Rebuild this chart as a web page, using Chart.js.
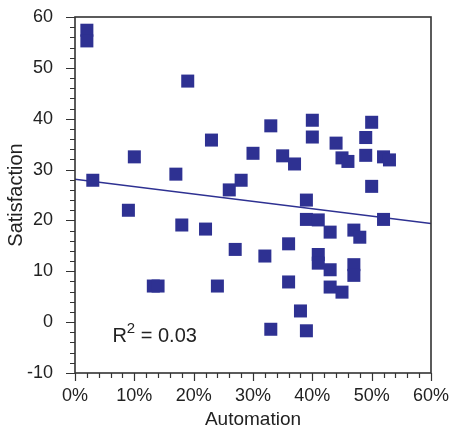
<!DOCTYPE html>
<html>
<head>
<meta charset="utf-8">
<script src="https://cdn.jsdelivr.net/npm/chart.js@4.4.1/dist/chart.umd.min.js"></script>
<style>
  html, body { margin: 0; padding: 0; background: #fff; }
  #wrap { width: 452px; height: 427px; }
</style>
</head>
<body>
<div id="wrap"><canvas id="c" width="452" height="427"></canvas></div>
<script>
// Automation (%) and Satisfaction values
const automation = [2, 2, 3, 9, 10, 13.2, 14, 17, 18, 19, 22, 23, 24, 26, 27, 28, 30, 32, 33, 33,
  35, 36, 36, 37, 38, 39, 39, 39, 40, 40, 41, 41, 41, 43, 43, 43, 44, 45, 45, 46,
  47, 47, 47, 48, 49, 49, 50, 50, 52, 52, 53];
const satisfaction = [57.4, 55.3, 27.9, 22.0, 32.5, 7.1, 7.1, 29.1, 19.1, 47.4, 18.3, 35.8, 7.1, 26.0, 14.3, 27.9, 33.2, 13.0, 38.6, -1.4,
  32.7, 15.4, 7.9, 31.1, 2.2, 24.0, 20.2, -1.7, 39.7, 36.4, 20.1, 13.3, 11.6, 17.7, 10.3, 6.9, 35.2, 32.3, 5.9, 31.6,
  18.1, 11.3, 9.2, 16.7, 36.3, 32.8, 39.3, 26.7, 32.5, 20.2, 31.9];
// Fitted trend line endpoints
const trendX = [0, 60];
const trendY = [28.1, 19.4];
// Axis ticks
const xTicks = [0, 10, 20, 30, 40, 50, 60];
const yTicks = [-10, 0, 10, 20, 30, 40, 50, 60];
const xMinorStep = 2;
const yMinorStep = 2;
const r2Label = { x: 6.3, y: -3.9, text: "0.03" };

const BLUE = '#2e3192';
const AXIS = '#333333';
const FONT = "'Liberation Sans', Arial, Helvetica, sans-serif";

const points = automation.map((x, i) => ({ x: x, y: satisfaction[i] }));
const trend = trendX.map((x, i) => ({ x: x, y: trendY[i] }));

const framePlugin = {
  id: 'frame',
  afterDraw(chart) {
    const { ctx, chartArea: a, scales } = chart;
    const xs = scales.x, ys = scales.y;
    ctx.save();
    ctx.strokeStyle = AXIS;
    ctx.lineWidth = 1.6;
    ctx.strokeRect(a.left, a.top, a.right - a.left, a.bottom - a.top);
    ctx.lineWidth = 1.2;
    ctx.beginPath();
    for (let v = xs.min; v <= xs.max + 1e-9; v += xMinorStep) {
      const px = Math.round(xs.getPixelForValue(v)) + 0.5;
      const major = xTicks.includes(Math.round(v));
      ctx.moveTo(px, a.bottom);
      ctx.lineTo(px, a.bottom + (major ? 8 : 5));
    }
    for (let v = ys.min; v <= ys.max + 1e-9; v += yMinorStep) {
      const py = Math.round(ys.getPixelForValue(v)) + 0.5;
      const major = yTicks.includes(Math.round(v));
      ctx.moveTo(a.left, py);
      ctx.lineTo(a.left - (major ? 9 : 5), py);
    }
    ctx.stroke();
    // R^2 annotation
    const tx = xs.getPixelForValue(r2Label.x);
    const ty = ys.getPixelForValue(r2Label.y);
    ctx.fillStyle = '#222';
    ctx.textBaseline = 'alphabetic';
    ctx.textAlign = 'left';
    ctx.font = '20px ' + FONT;
    ctx.fillText('R', tx, ty);
    let w = ctx.measureText('R').width;
    ctx.font = '15px ' + FONT;
    ctx.fillText('2', tx + w, ty - 9);
    w += ctx.measureText('2').width;
    ctx.font = '20px ' + FONT;
    ctx.fillText(' = ' + r2Label.text, tx + w, ty);
    ctx.restore();
  }
};

new Chart(document.getElementById('c'), {
  type: 'scatter',
  data: {
    datasets: [
      {
        data: points,
        pointStyle: 'rect',
        pointRadius: 9.2,
        pointHoverRadius: 9.2,
        backgroundColor: BLUE,
        borderWidth: 0,
        order: 1
      },
      {
        type: 'line',
        data: trend,
        borderColor: BLUE,
        borderWidth: 1.5,
        pointRadius: 0,
        fill: false,
        order: 2
      }
    ]
  },
  options: {
    responsive: false,
    animation: false,
    devicePixelRatio: 1,
    layout: { padding: { left: 0, top: 17, right: 21, bottom: 0 } },
    plugins: { legend: { display: false }, tooltip: { enabled: false } },
    scales: {
      x: {
        type: 'linear',
        min: 0, max: 60,
        afterFit(s) { s.height = 54; s.paddingLeft = 0; s.paddingRight = 0; },
        afterBuildTicks(s) { s.ticks = xTicks.map(v => ({ value: v })); },
        grid: { display: false },
        border: { display: false },
        ticks: {
          padding: 4,
          color: '#222',
          font: { family: FONT, size: 18 },
          maxRotation: 0,
          autoSkip: false,
          callback: v => v + '%'
        },
        title: {
          display: true,
          text: 'Automation',
          color: '#222',
          font: { family: FONT, size: 19 },
          padding: { top: 0, bottom: -4 }
        }
      },
      y: {
        type: 'linear',
        min: -10, max: 60,
        afterFit(s) { s.width = 75; s.paddingTop = 0; s.paddingBottom = 0; },
        afterBuildTicks(s) { s.ticks = yTicks.map(v => ({ value: v })); },
        grid: { display: false },
        border: { display: false },
        ticks: {
          padding: 14,
          color: '#222',
          font: { family: FONT, size: 18 },
          autoSkip: false
        },
        title: {
          display: true,
          text: 'Satisfaction',
          color: '#222',
          font: { family: FONT, size: 20 },
          padding: { top: 4, bottom: 0 }
        }
      }
    }
  },
  plugins: [framePlugin]
});
</script>
</body>
</html>
